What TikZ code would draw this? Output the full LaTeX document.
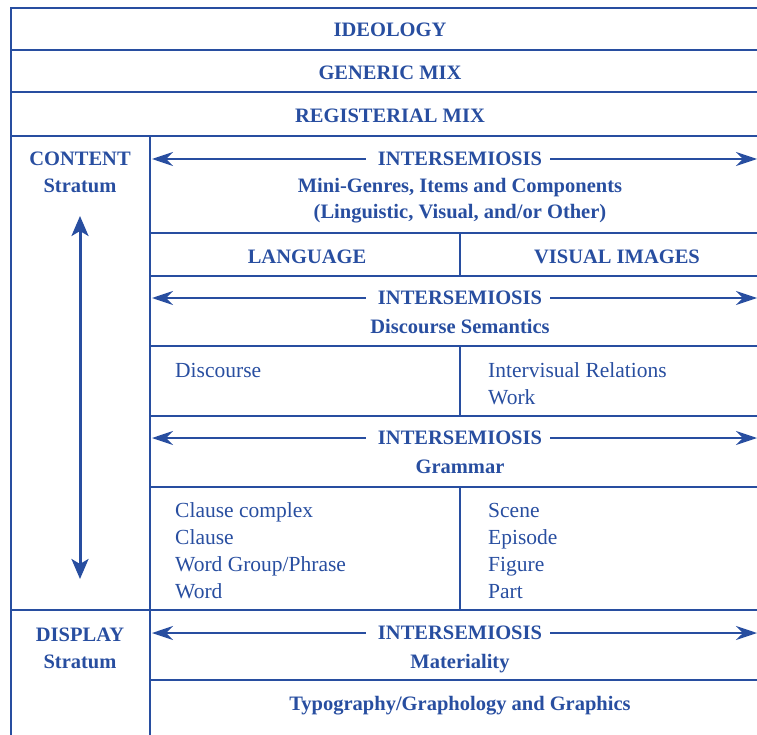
\documentclass[tikz,border=0pt]{standalone}
\usepackage{fontspec}
\setmainfont{Liberation Serif}
\usetikzlibrary{arrows.meta}
\definecolor{ink}{RGB}{40,78,160}
\tikzset{
  grid/.style={draw=ink, line width=1.7pt},
  hd/.style={text=ink, font=\fontsize{20.5}{24}\selectfont\bfseries, inner sep=0pt, anchor=base},
  tx/.style={text=ink, font=\fontsize{21.5}{25}\selectfont, inner sep=0pt, anchor=base west},
  harrow/.style={draw=ink, line width=1.8pt, -{Stealth[length=21pt,width=14pt,inset=7pt]}},
  varrow/.style={draw=ink, line width=3pt, {Stealth[length=20pt,width=17pt,inset=5pt]}-{Stealth[length=20pt,width=17pt,inset=5pt]}}
}
\begin{document}
\begin{tikzpicture}[x=1pt,y=-1pt]
\useasboundingbox (0,0) rectangle (757,735);
% grid
\draw[grid] (760,8) -- (11,8) -- (11,740);
\draw[grid] (11,50) -- (760,50);
\draw[grid] (11,92) -- (760,92);
\draw[grid] (11,136) -- (760,136);
\draw[grid] (11,610) -- (760,610);
\draw[grid] (150,136) -- (150,740);
\foreach \y in {233,276,346,416,487,680} \draw[grid] (150,\y) -- (760,\y);
\draw[grid] (460,233) -- (460,276);
\draw[grid] (460,346) -- (460,416);
\draw[grid] (460,487) -- (460,610);
% top rows
\node[hd] (ideo) at (390,37) {IDEOLOGY};
\node[hd] (gen) at (390,80) {GENERIC MIX};
\node[hd] (reg) at (390,123) {REGISTERIAL MIX};
% left column
\node[hd] (cont) at (80,166) {CONTENT};
\node[hd] (cstr) at (80,193) {Stratum};
\node[hd] (disp) at (80,641) {DISPLAY};
\node[hd] (dstr) at (80,668) {Stratum};
\coordinate (vtop) at (80,216);
\coordinate (vbot) at (80,579);
\draw[varrow] (vtop) -- (vbot);
% intersemiosis rows
\foreach \n/\y in {a/159,b/298,c/438,d/633}{
  \node[hd, anchor=center] (is\n) at (460,\y) {INTERSEMIOSIS};
  \coordinate (l\n) at (152,\y);
  \coordinate (r\n) at (757,\y);
  \draw[harrow] ([xshift=-12pt]is\n.west) -- (l\n);
  \draw[harrow] ([xshift=8pt]is\n.east) -- (r\n);
}
\node[hd] (mini) at (460,193) {Mini-Genres, Items and Components};
\node[hd] (ling) at (460,219) {(Linguistic, Visual, and/or Other)};
\node[hd] (lang) at (307,264) {LANGUAGE};
\node[hd] (vis) at (617,264) {VISUAL IMAGES};
\node[hd] (ds) at (460,333) {Discourse Semantics};
\node[hd] (gram) at (460,473) {Grammar};
\node[hd] (mat) at (460,668) {Materiality};
\node[hd] (typo) at (460,710) {Typography/Graphology and Graphics};
% content texts
\node[tx] (disc) at (175,377) {Discourse};
\node[tx] (ivr) at (488,377) {Intervisual Relations};
\node[tx] (work) at (488,404) {Work};
\node[tx] (cc) at (175,517) {Clause complex};
\node[tx] (cl) at (175,544) {Clause};
\node[tx] (wg) at (175,571) {Word Group/Phrase};
\node[tx] (wd) at (175,598) {Word};
\node[tx] (sc) at (488,517) {Scene};
\node[tx] (ep) at (488,544) {Episode};
\node[tx] (fig) at (488,571) {Figure};
\node[tx] (pt) at (488,598) {Part};
\end{tikzpicture}
\end{document}
